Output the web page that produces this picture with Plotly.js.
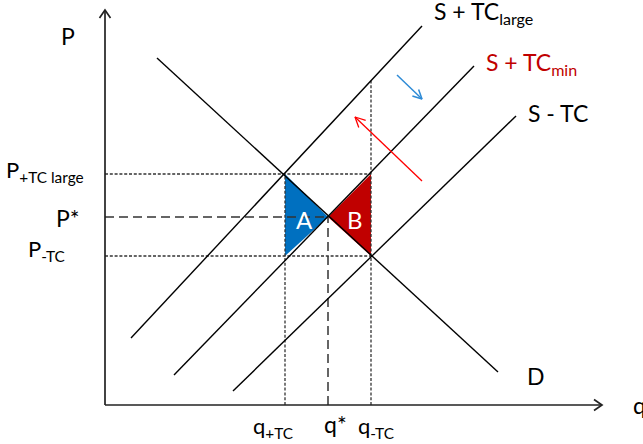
<!DOCTYPE html>
<html>
<head>
<meta charset="utf-8">
<script src="https://cdn.plot.ly/plotly-3.0.1.min.js"></script>
<style>html,body{margin:0;padding:0;background:#fff;}#chart{width:643px;height:444px;}</style>
</head>
<body>
<div id="chart"></div>
<script>
// ---- data (economic units: quantity q, price P) ----
const demandQ = [52, 393];
const demandP = [347, 33];
const supplyLargeQ = [26, 317];
const supplyLargeP = [67, 379];
const supplyMinQ = [69, 369];
const supplyMinP = [30, 339];
const supplyMinusQ = [128, 411];
const supplyMinusP = [14, 289];

const qTicks = [180, 223, 266];
const qTickLabels = ['q<sub>+TC</sub>', 'q*', 'q<sub>-TC</sub>'];
const pTicks = [231, 188, 149];
const pTickLabels = ['P<sub>+TC large</sub>', 'P*', 'P<sub>-TC</sub>'];

const areaAQ = [180, 180, 223];
const areaAP = [231, 149, 188];
const areaBQ = [266, 266, 223];
const areaBP = [231, 149, 188];

const shiftDownQ = [292, 317];
const shiftDownP = [330, 306];
const shiftUpQ = [317, 250];
const shiftUpP = [224, 288];

const axisMaxQ = 497;
const axisMaxP = 395;

// ---- helpers ----
function lineAt(qs, ps, q) { return ps[0] + (ps[1] - ps[0]) * (q - qs[0]) / (qs[1] - qs[0]); }

const black = '#000000';
const traces = [];

function seg(x, y, color, width, dash) {
  traces.push({x: x, y: y, mode: 'lines', type: 'scatter', hoverinfo: 'skip',
    line: {color: color, width: width, dash: dash || 'solid'}});
}
// straight arrow with open V head (1 axis unit = 1 px on both axes)
function arrowLine(x0, y0, x1, y1, color, width, len, half) {
  seg([x0, x1], [y0, y1], color, width);
  const dx = x1 - x0, dy = y1 - y0, L = Math.hypot(dx, dy);
  const ux = dx / L, uy = dy / L, nx = -uy, ny = ux;
  const bx = x1 - ux * len, by = y1 - uy * len;
  traces.push({x: [bx + nx * half, x1, bx - nx * half], y: [by + ny * half, y1, by - ny * half],
    mode: 'lines', type: 'scatter', hoverinfo: 'skip',
    line: {color: color, width: width, join: 'miter'}});
}

// triangles
traces.push({x: areaAQ, y: areaAP, type: 'scatter', mode: 'lines', fill: 'toself',
  fillcolor: '#0070C0', line: {width: 0, color: '#0070C0'}, hoverinfo: 'skip'});
traces.push({x: areaBQ, y: areaBP, type: 'scatter', mode: 'lines', fill: 'toself',
  fillcolor: '#C00000', line: {width: 0, color: '#C00000'}, hoverinfo: 'skip'});

// guide lines
const shortDash = '3px,1.8px';
const longDash = '9px,5px';
const guideColor = '#333333';
seg([0, qTicks[2]], [pTicks[0], pTicks[0]], guideColor, 1.3, shortDash);
seg([0, qTicks[1]], [pTicks[1], pTicks[1]], guideColor, 1.5, longDash);
seg([0, qTicks[2]], [pTicks[2], pTicks[2]], guideColor, 1.3, shortDash);
seg([qTicks[0], qTicks[0]], [0, pTicks[0]], guideColor, 1.3, shortDash);
seg([qTicks[1], qTicks[1]], [0, pTicks[1]], guideColor, 1.5, longDash);
seg([qTicks[2], qTicks[2]], [0, lineAt(supplyLargeQ, supplyLargeP, qTicks[2])], guideColor, 1.3, shortDash);

// curves
seg(demandQ, demandP, black, 1.4);
seg(supplyLargeQ, supplyLargeP, black, 1.4);
seg(supplyMinQ, supplyMinP, black, 1.4);
seg(supplyMinusQ, supplyMinusP, black, 1.4);

// axes
arrowLine(0, 0, 0, axisMaxP, '#222222', 1.7, 8, 5.5);
arrowLine(0, 0, axisMaxQ, 0, '#222222', 1.7, 8, 5.5);

// shift arrows
arrowLine(shiftDownQ[0], shiftDownP[0], shiftDownQ[1], shiftDownP[1], '#2E8BD6', 1.5, 9, 4.5);
arrowLine(shiftUpQ[0], shiftUpP[0], shiftUpQ[1], shiftUpP[1], '#FF0000', 1.3, 10, 5);

const FONT = 'Lato, "Open Sans", sans-serif';
const ann = [];
function label(text, x, y, xanchor, size, color) {
  ann.push({x: x, y: y, xref: 'x', yref: 'y', text: text, showarrow: false,
    xanchor: xanchor, yanchor: 'middle', font: {family: FONT, size: size, color: color || black}});
}

// axis labels
label('P', -37, 369, 'center', 23);
label('q', 526, 0, 'left', 23);

// tick labels
label(pTickLabels[0], -19, pTicks[0] + 3, 'right', 22);
label(pTickLabels[1], -23, pTicks[1] - 1, 'right', 23);
label(pTickLabels[2], -38, pTicks[2] + 6, 'right', 22);
label(qTickLabels[0], qTicks[0] - 12, -22, 'center', 22);
label(qTickLabels[1], qTicks[1] + 7, -19, 'center', 23);
label(qTickLabels[2], qTicks[2] + 5, -22, 'center', 22);

// curve labels
label('S + TC<sub>large</sub>', 327, 393, 'left', 23);
label('S + TC<sub>min</sub>', 379, 342, 'left', 23, '#C00000');
label('S - TC', 421, 292, 'left', 23);
label('D', 431, 29, 'center', 23);

// area labels
label('A', 199, 186, 'center', 24, '#ffffff');
label('B', 250, 186, 'center', 24, '#ffffff');

const layout = {
  width: 643, height: 444,
  margin: {l: 0, r: 0, t: 0, b: 0, pad: 0},
  paper_bgcolor: '#ffffff', plot_bgcolor: '#ffffff',
  showlegend: false,
  xaxis: {range: [-105, 538], visible: false, fixedrange: true},
  yaxis: {range: [-39, 405], visible: false, fixedrange: true},
  annotations: ann
};
Plotly.newPlot('chart', traces, layout, {displayModeBar: false, staticPlot: true});
</script>
</body>
</html>
